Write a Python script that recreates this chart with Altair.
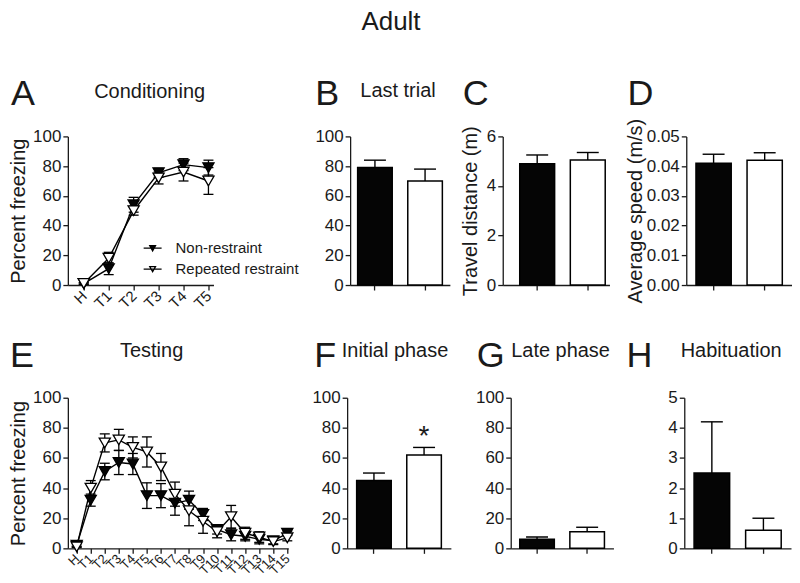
import altair as alt
import pandas as pd

FONT = "Liberation Sans"
INK = "#1a1a1a"

groups = ["Non-restraint", "Repeated restraint"]

# Panel A: conditioning
cond_trials = ["H", "T1", "T2", "T3", "T4", "T5"]
cond_nr = [1, 11, 54, 75.5, 81, 79]
cond_nr_sem = [0.5, 4, 5, 3, 4, 5]
cond_rr = [1, 18, 50, 72, 76, 70]
cond_rr_sem = [0.5, 4, 3, 4, 6, 9]

# Panel E: testing
test_trials = ["H", "T1", "T2", "T3", "T4", "T5", "T6", "T7", "T8", "T9",
               "T10", "T11", "T12", "T13", "T14", "T15"]
test_nr = [2, 32, 51, 57, 56, 35, 35, 30, 32, 22.5, 12.5, 9, 8, 6, 5, 10]
test_nr_sem = [1, 4, 5.5, 8, 7, 8.5, 8, 8, 6, 4, 3, 4, 3, 3, 2, 1.5]
test_rr = [1, 40, 70, 72, 67, 64, 54, 36, 25, 18, 11, 21, 10, 7.5, 4.5, 7]
test_rr_sem = [0.5, 5, 6, 7, 7, 10, 9, 8, 10, 8, 4, 7.5, 4, 3.5, 2, 2]

# Bar panels
last_trial = [79, 70]
last_trial_sem = [5, 8]
travel = [4.9, 5.05]
travel_sem = [0.35, 0.3]
speed = [0.041, 0.042]
speed_sem = [0.003, 0.0025]
initial = [45, 62]
initial_sem = [5, 5]
initial_stars = ["", "*"]
late = [6, 11]
late_sem = [1.5, 3]
habit = [2.5, 0.6]
habit_sem = [1.7, 0.4]

fill_scale = alt.Scale(domain=groups, range=["#050505", "white"])


def annotations(letter, letter_x, title, title_x, title_y, letter_y=-31):
    df = pd.DataFrame({"t": [letter], "s": [title]})
    base = alt.Chart(df)
    let = base.mark_text(fontSize=36, font=FONT, align="left", baseline="alphabetic",
                         color=INK).encode(text="t:N", x=alt.value(letter_x), y=alt.value(letter_y))
    tit = base.mark_text(fontSize=20, font=FONT, align="center", baseline="alphabetic",
                         color=INK).encode(text="s:N", x=alt.value(title_x), y=alt.value(title_y))
    return [let, tit]


def line_panel(trials, nr, nr_sem, rr, rr_sem, width, height, pad, align,
               label_size, ann, legend):
    recs = []
    for g, vals, sems in ((groups[0], nr, nr_sem), (groups[1], rr, rr_sem)):
        for t, v, s in zip(trials, vals, sems):
            recs.append({"trial": t, "group": g, "value": v, "lo": v - s, "hi": v + s})
    df = pd.DataFrame(recs)
    xax = alt.Axis(title=None, labelAngle=-45, labelAlign="right", labelBaseline="middle",
                   labelFontSize=label_size, labelPadding=3, labelOverlap=False)
    xenc = alt.X("trial:N", sort=trials,
                 scale=alt.Scale(type="point", padding=pad, align=align), axis=xax)
    yax = alt.Axis(values=[0, 20, 40, 60, 80, 100], title="Percent freezing", titlePadding=4)
    ysc = alt.Scale(domain=[0, 100], nice=False)
    base = alt.Chart(df).encode(x=xenc)
    line = base.mark_line(color="black", strokeWidth=1.4).encode(
        y=alt.Y("value:Q", scale=ysc, axis=yax), detail="group:N")
    rule = base.mark_rule(color="black", strokeWidth=1.3).encode(
        y=alt.Y("lo:Q", scale=ysc, axis=yax), y2="hi:Q", detail="group:N")
    cap_lo = base.mark_tick(color="black", size=10, thickness=1.3, opacity=1).encode(
        y=alt.Y("lo:Q", scale=ysc, axis=yax))
    cap_hi = base.mark_tick(color="black", size=10, thickness=1.3, opacity=1).encode(
        y=alt.Y("hi:Q", scale=ysc, axis=yax))
    if legend:
        leg = alt.Legend(title=None, orient="none", legendX=75, legendY=102,
                         symbolType="M-1,0L1,0M-0.32,-0.28L0.32,-0.28L0,0.3Z",
                         symbolSize=324, symbolStrokeColor="black", symbolStrokeWidth=1.3,
                         labelFontSize=15, labelFont=FONT, labelColor=INK,
                         labelOffset=13, rowPadding=3, padding=0, symbolOffset=0)
    else:
        leg = None
    pts = base.mark_point(shape="triangle-down", size=125, filled=True, stroke="black",
                          strokeWidth=1.3, opacity=1, fillOpacity=1).encode(
        y=alt.Y("value:Q", scale=ysc, axis=yax),
        fill=alt.Fill("group:N", scale=fill_scale, legend=leg))
    layers = [line, rule, cap_lo, cap_hi, pts] + ann
    return alt.layer(*layers).properties(width=width, height=height)


def bar_panel(vals, sems, domain, yvalues, fmt, ytitle, width, height, po, align,
              ann, stars=None, title_pad=6):
    d = {"group": groups, "value": vals, "hi": [v + s for v, s in zip(vals, sems)]}
    if stars is not None:
        d["star"] = stars
    df = pd.DataFrame(d)
    xenc = alt.X("group:N", sort=groups,
                 scale=alt.Scale(paddingInner=0.31, paddingOuter=po, align=align),
                 axis=alt.Axis(labels=False, title=None))
    ysc = alt.Scale(domain=domain, nice=False)
    yax = alt.Axis(values=yvalues, format=fmt, title=ytitle, titlePadding=title_pad)
    base = alt.Chart(df).encode(x=xenc)
    bars = base.mark_bar(stroke="black", strokeWidth=1.5).encode(
        y=alt.Y("value:Q", scale=ysc, axis=yax),
        fill=alt.Fill("group:N", scale=fill_scale, legend=None))
    err = base.mark_rule(color="black", strokeWidth=1.4).encode(
        y=alt.Y("value:Q", scale=ysc, axis=yax), y2="hi:Q")
    cap = base.mark_tick(color="black", size=22, thickness=1.4, opacity=1).encode(
        y=alt.Y("hi:Q", scale=ysc, axis=yax))
    layers = [bars, err, cap]
    if stars is not None:
        st = base.mark_text(fontSize=28, font=FONT, baseline="alphabetic", dy=-2,
                            color=INK).encode(y=alt.Y("hi:Q", scale=ysc, axis=yax),
                                              text="star:N")
        layers.append(st)
    return alt.layer(*layers + ann).properties(width=width, height=height)


H1 = 149
H2 = 151

pA = line_panel(cond_trials, cond_nr, cond_nr_sem, cond_rr, cond_rr_sem, 146, H1,
                0.42, 0.76, 15, annotations("A", -57, "Conditioning", 82, -38), True)
adult = alt.Chart(pd.DataFrame({"t": ["Adult"]})).mark_text(
    fontSize=26, font=FONT, align="center", baseline="alphabetic", color=INK
).encode(text="t:N", x=alt.value(-112), y=alt.value(-107))

pB = bar_panel(last_trial, last_trial_sem, [0, 100], [0, 20, 40, 60, 80, 100], "d", None,
               100, H1, 0.15, 0.5, annotations("B", -35, "Last trial", 48, -40))
pC = bar_panel(travel, travel_sem, [0, 6], [0, 2, 4, 6], "d", "Travel distance (m)",
               107, H1, 0.21, 0.8, annotations("C", -40, "", 0, -40) + [adult])
pD = bar_panel(speed, speed_sem, [0, 0.05], [0, 0.01, 0.02, 0.03, 0.04, 0.05], ".2f",
               "Average speed (m/s)", 106, H1, 0.19, 0.5,
               annotations("D", -59, "", 0, -40), title_pad=1)

pE = line_panel(test_trials, test_nr, test_nr_sem, test_rr, test_rr_sem, 221, H2,
                0.35, 0.9, 13, annotations("E", -58, "Testing", 84, -41), False)
pF = bar_panel(initial, initial_sem, [0, 100], [0, 20, 40, 60, 80, 100], "d", None,
               104, H2, 0.19, 0.5, annotations("F", -33, "Initial phase", 48, -41),
               stars=initial_stars)
pG = bar_panel(late, late_sem, [0, 100], [0, 20, 40, 60, 80, 100], "d", None,
               103, H2, 0.18, 0.5, annotations("G", -34, "Late phase", 50, -41))
pH = bar_panel(habit, habit_sem, [0, 5], [0, 1, 2, 3, 4, 5], "d", None,
               107, H2, 0.19, 0.5, annotations("H", -58, "Habituation", 47, -41))

row1 = alt.hconcat(
    pA,
    alt.hconcat(pB, alt.hconcat(pC, pD, spacing=77, bounds="flush"),
                spacing=53, bounds="flush"),
    spacing=137, bounds="flush")
row2 = alt.hconcat(
    pE,
    alt.hconcat(pF, alt.hconcat(pG, pH, spacing=71, bounds="flush"),
                spacing=60, bounds="flush"),
    spacing=59, bounds="flush")

chart = alt.vconcat(row1, row2, spacing=26).properties(
    padding={"left": 0, "top": 0, "right": 0, "bottom": 0}
).configure_view(stroke=None).configure_axis(
    grid=False, domainColor=INK, tickColor=INK, labelColor=INK, titleColor=INK,
    labelFont=FONT, titleFont=FONT, labelFontSize=17, titleFontSize=20,
    titleFontWeight="normal", tickSize=5, domainWidth=1.3, tickWidth=1.3, labelPadding=2
)

chart.save("out.html", embed_options={"renderer": "svg", "actions": False})
